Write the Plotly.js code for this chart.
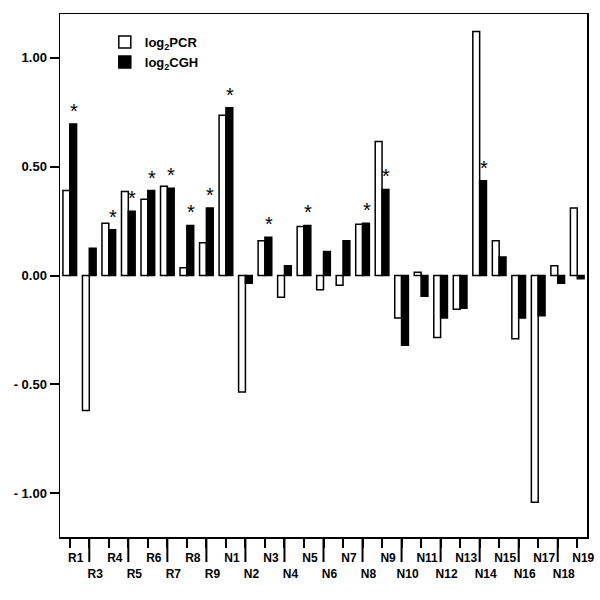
<!DOCTYPE html>
<html>
<head>
<meta charset="utf-8">
<script src="https://cdn.plot.ly/plotly-3.0.1.min.js"></script>
<style>
  body { margin: 0; background: #fff; }
  #chart { width: 600px; height: 600px; }
</style>
</head>
<body>
<div id="chart"></div>
<script>
// samples, in drawing order
var samples = ['R1', 'R3', 'R4', 'R5', 'R6', 'R7', 'R8', 'R9',
  'N1', 'N2', 'N3', 'N4', 'N5', 'N6', 'N7', 'N8', 'N9', 'N10',
  'N11', 'N12', 'N13', 'N14', 'N15', 'N16', 'N17', 'N18', 'N19'];

// log2 ratio from real-time PCR (white bars)
var log2PCR = [0.39, -0.62, 0.24, 0.385, 0.35, 0.41, 0.035, 0.15,
  0.735, -0.535, 0.16, -0.10, 0.225, -0.065, -0.045, 0.235, 0.615, -0.195,
  0.015, -0.285, -0.155, 1.12, 0.16, -0.29, -1.04, 0.045, 0.31];

// log2 ratio from array CGH (black bars)
var log2CGH = [0.695, 0.125, 0.21, 0.295, 0.39, 0.40, 0.23, 0.31,
  0.77, -0.035, 0.175, 0.045, 0.23, 0.11, 0.16, 0.24, 0.395, -0.32,
  -0.095, -0.195, -0.15, 0.435, 0.085, -0.195, -0.185, -0.035, -0.015];

// samples marked with an asterisk
var starred = ['R1', 'R4', 'R5', 'R6', 'R7', 'R8', 'R9', 'N1', 'N3',
  'N5', 'N8', 'N9', 'N14'];

var yTicks = [1, 0.5, 0, -0.5, -1];
var yTickText = ['1.00', '0.50', '0.00', '- 0.50', '- 1.00'];

var font = {family: 'Liberation Sans, Arial, sans-serif', size: 12, color: '#000'};

var data = [
  {
    x: samples,
    y: log2PCR,
    name: '<b>log<sub>2</sub>PCR</b>',
    type: 'bar',
    marker: {color: '#fff', line: {color: '#000', width: 1.5}}
  },
  {
    x: samples,
    y: log2CGH,
    name: '<b>log<sub>2</sub>CGH</b>',
    type: 'bar',
    marker: {color: '#000', line: {color: '#000', width: 1.5}}
  }
];

// x labels alternate between two rows
var xTickText = samples.map(function(s, i) {
  return i % 2 === 0 ? '<b>' + s + '</b>' : '<br><b>' + s + '</b>';
});

var annotations = starred.map(function(s) {
  var idx = samples.indexOf(s);
  return {
    x: s, y: log2CGH[idx], xref: 'x', yref: 'y',
    text: '*', showarrow: false,
    xshift: 4, yshift: 0, yanchor: 'bottom',
    font: {family: font.family, size: 20, color: '#000'}
  };
});

// long ticks under the second-row labels
var shapes = [];
samples.forEach(function(s, i) {
  if (i % 2 === 1) {
    var xp = (i + 0.5) / samples.length;
    shapes.push({
      type: 'line', xref: 'paper', yref: 'paper',
      x0: xp, x1: xp, y0: 0, y1: -25 / 523,
      line: {color: '#000', width: 2}
    });
  }
});

var layout = {
  width: 600,
  height: 600,
  margin: {l: 60, r: 13, t: 14, b: 63},
  paper_bgcolor: '#fff',
  plot_bgcolor: '#fff',
  font: font,
  barmode: 'group',
  bargap: 0.3,
  bargroupgap: 0,
  showlegend: true,
  legend: {
    x: 0.085, y: 0.975, xanchor: 'left', yanchor: 'top',
    bgcolor: 'rgba(0,0,0,0)',
    font: {family: font.family, size: 13, color: '#000'},
    tracegroupgap: 0
  },
  xaxis: {
    type: 'category',
    tickmode: 'array',
    tickvals: samples,
    ticktext: xTickText,
    tickangle: 0,
    ticks: 'outside',
    ticklen: 9,
    tickwidth: 2,
    tickcolor: '#000',
    ticklabelshift: 6,
    showline: true,
    linecolor: '#000',
    linewidth: 1.5,
    mirror: true,
    showgrid: false,
    zeroline: false,
    tickfont: {family: font.family, size: 12, color: '#000'}
  },
  yaxis: {
    range: [-1.2, 1.2],
    tickmode: 'array',
    tickvals: yTicks,
    ticktext: yTickText.map(function(t) { return '<b>' + t + '</b>'; }),
    ticks: 'outside',
    ticklen: 9,
    tickwidth: 2,
    tickcolor: '#000',
    showline: true,
    linecolor: '#000',
    linewidth: 1.5,
    mirror: true,
    showgrid: false,
    zeroline: false,
    tickfont: {family: font.family, size: 13, color: '#000'}
  },
  shapes: shapes,
  annotations: annotations
};

Plotly.newPlot('chart', data, layout, {staticPlot: true});
</script>
</body>
</html>
